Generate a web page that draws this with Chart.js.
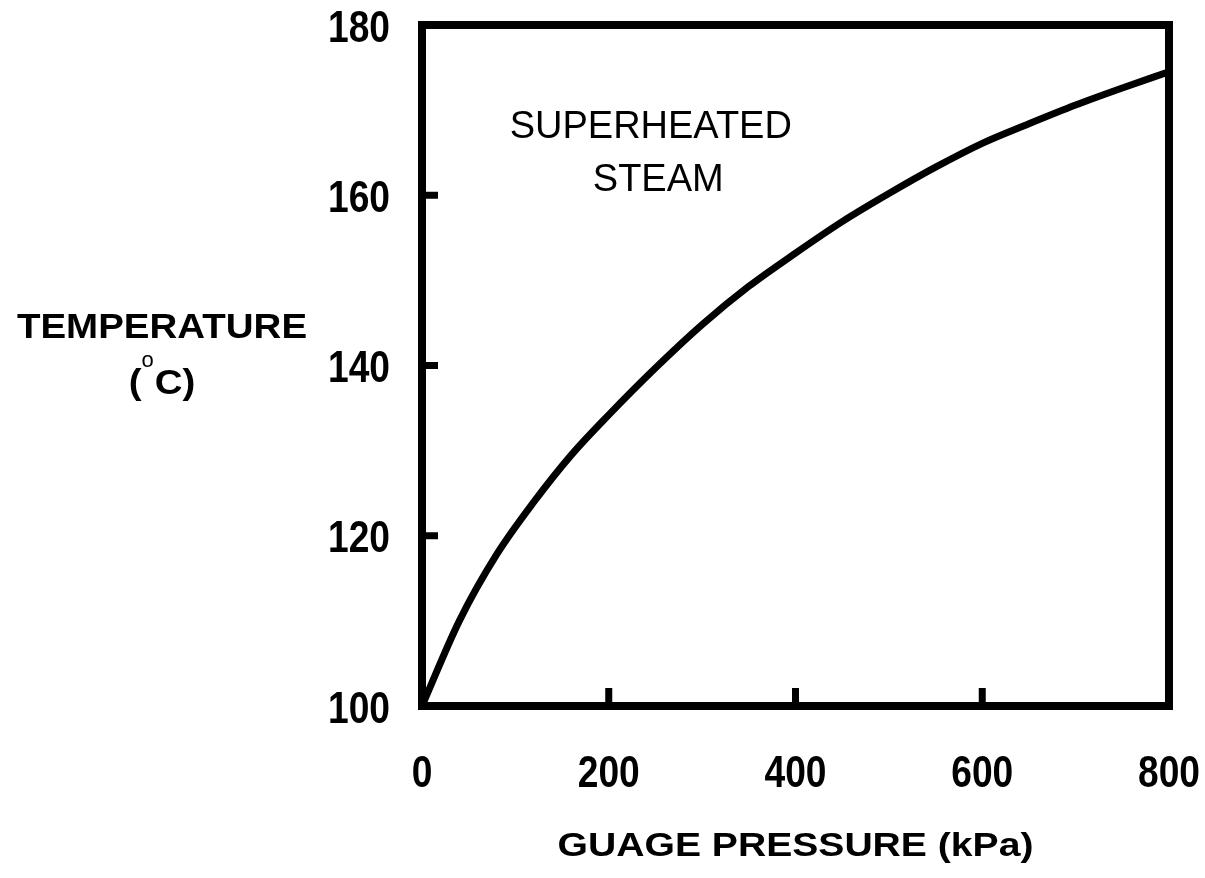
<!DOCTYPE html>
<html lang="en">
<head>
<meta charset="UTF-8">
<title>Saturation Temperature of Steam</title>
<script src="https://cdn.jsdelivr.net/npm/chart.js@4"></script>
<style>
    html, body { margin: 0; padding: 0; background: #fff; }
    #wrap { width: 1205px; height: 878px; }
</style>
</head>
<body>
<div id="wrap"><canvas id="steamChart" width="1205" height="878"></canvas></div>
<script>
// saturation curve: gauge pressure (kPa) vs boiling temperature (deg C)
const pressureKPa = [0, 40, 80, 120, 160, 200, 250, 300, 350, 400, 450, 500, 550, 600, 650, 700, 750, 800];
const temperatureC = [100, 110, 117.8, 124.0, 129.5, 134.2, 139.7, 144.8, 149.3, 153.2, 156.9, 160.2, 163.3, 166.1, 168.4, 170.6, 172.6, 174.5];
const xTickValues = [0, 200, 400, 600, 800];
const yTickValues = [100, 120, 140, 160, 180];

const FAMILY = "'Liberation Sans', Arial, sans-serif";

// fillText with a horizontal stretch (sx < 1 narrows the glyphs)
function drawText(ctx, text, x, y, sx) {
    ctx.save();
    ctx.translate(x, y);
    ctx.scale(sx, 1);
    ctx.fillText(text, 0, 0);
    ctx.restore();
}

// the layout should not add room for labels hanging past the plot edges
function noAutoPadding(s) {
    s.paddingLeft = 0;
    s.paddingRight = 0;
    s.paddingTop = 0;
    s.paddingBottom = 0;
}

// thick box round the plot, with short inward ticks on the bottom and left sides
const framePlugin = {
    id: 'frame',
    afterDatasetsDraw(chart) {
        const { ctx, chartArea: a, scales } = chart;
        ctx.save();
        ctx.strokeStyle = '#000';
        ctx.lineWidth = 8;
        ctx.lineJoin = 'miter';
        ctx.strokeRect(a.left, a.top, a.right - a.left, a.bottom - a.top);

        ctx.lineWidth = 7;
        ctx.beginPath();
        xTickValues.slice(1, -1).forEach(v => {
            const px = scales.x.getPixelForValue(v);
            ctx.moveTo(px, a.bottom);
            ctx.lineTo(px, a.bottom - 18);
        });
        yTickValues.slice(1, -1).forEach(v => {
            const py = scales.y.getPixelForValue(v);
            ctx.moveTo(a.left, py);
            ctx.lineTo(a.left + 16, py);
        });
        ctx.stroke();
        ctx.restore();
    }
};

// tick numbers (narrow bold), axis titles and the region label
const labelsPlugin = {
    id: 'labels',
    afterDraw(chart) {
        const { ctx, chartArea: a, scales } = chart;
        ctx.save();
        ctx.fillStyle = '#000';
        ctx.textBaseline = 'alphabetic';

        ctx.font = `bold 44px ${FAMILY}`;
        ctx.textAlign = 'right';
        scales.y.ticks.forEach(t => {
            drawText(ctx, String(t.value), a.left - 32, scales.y.getPixelForValue(t.value) + 16.5, 0.845);
        });
        ctx.textAlign = 'center';
        scales.x.ticks.forEach(t => {
            drawText(ctx, String(t.value), scales.x.getPixelForValue(t.value), a.bottom + 81, 0.845);
        });

        // x axis title
        ctx.font = `bold 34px ${FAMILY}`;
        drawText(ctx, 'GUAGE PRESSURE (kPa)', (a.left + a.right) / 2, 856, 1.15);

        // y axis title, written horizontally on two lines
        ctx.font = `bold 35px ${FAMILY}`;
        drawText(ctx, 'TEMPERATURE', 162, 338, 1.1);
        const bold = `bold 35px ${FAMILY}`;
        const small = `22px ${FAMILY}`;
        ctx.textAlign = 'left';
        ctx.font = bold;
        const wOpen = ctx.measureText('(').width * 1.1;
        const wRest = ctx.measureText('C)').width * 1.1;
        ctx.font = small;
        const wDeg = ctx.measureText('o').width + 1;
        let x = 162 - (wOpen + wDeg + wRest) / 2;
        ctx.font = bold;
        drawText(ctx, '(', x, 394, 1.1);
        x += wOpen;
        ctx.font = small;
        ctx.fillText('o', x, 367);
        x += wDeg;
        ctx.font = bold;
        drawText(ctx, 'C)', x, 394, 1.1);

        // region label inside the plot
        ctx.textAlign = 'center';
        ctx.font = `38px ${FAMILY}`;
        ctx.fillText('SUPERHEATED', scales.x.getPixelForValue(245), 138);
        ctx.fillText('STEAM', scales.x.getPixelForValue(253), 191);
        ctx.restore();
    }
};

const points = pressureKPa.map((p, i) => ({ x: p, y: temperatureC[i] }));

new Chart(document.getElementById('steamChart'), {
    type: 'line',
    data: {
        datasets: [{
            data: points,
            borderColor: '#000',
            borderWidth: 7,
            pointRadius: 0,
            cubicInterpolationMode: 'monotone',
            fill: false
        }]
    },
    options: {
        responsive: false,
        animation: false,
        devicePixelRatio: 1,
        layout: { padding: { top: 25, right: 36, bottom: 0, left: 0 } },
        plugins: {
            legend: { display: false },
            tooltip: { enabled: false }
        },
        scales: {
            x: {
                type: 'linear',
                min: 0,
                max: 800,
                afterFit: s => { s.height = 172; noAutoPadding(s); },
                afterBuildTicks: s => { s.ticks = xTickValues.map(v => ({ value: v })); },
                grid: { display: false },
                border: { display: false },
                ticks: { display: false }
            },
            y: {
                type: 'linear',
                min: 100,
                max: 180,
                afterFit: s => { s.width = 422; noAutoPadding(s); },
                afterBuildTicks: s => { s.ticks = yTickValues.map(v => ({ value: v })); },
                grid: { display: false },
                border: { display: false },
                ticks: { display: false }
            }
        }
    },
    plugins: [framePlugin, labelsPlugin]
});
</script>
</body>
</html>
